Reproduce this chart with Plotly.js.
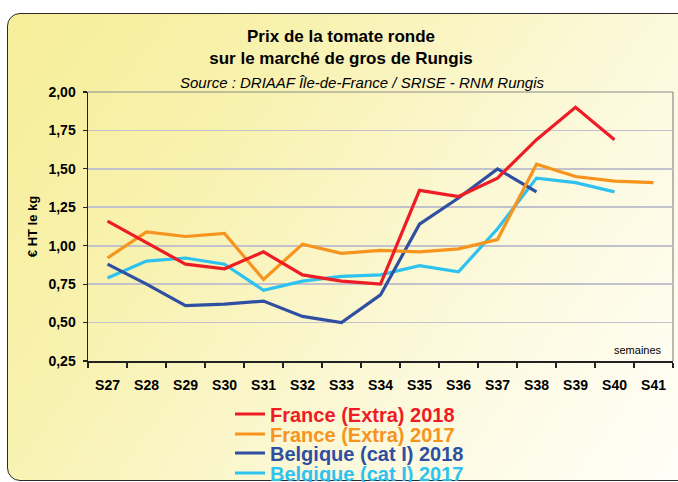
<!DOCTYPE html>
<html>
<head>
<meta charset="utf-8">
<script src="https://cdn.plot.ly/plotly-3.0.1.min.js"></script>
<style>
  html, body { margin: 0; padding: 0; background: #ffffff; }
  #wrap { position: relative; width: 678px; height: 482px; overflow: hidden; background: #ffffff; }
  #frame {
    position: absolute; left: 7px; top: 13px; width: 690px; height: 466px;
    border: 1.5px solid #2a2a2a; border-radius: 13px;
    background: linear-gradient(125deg, #f6ee98 0%, #f8f2b0 30%, #fcf9dc 65%, #fffffa 100%);
  }
  #chart { position: absolute; left: 0; top: 0; width: 678px; height: 482px; }
</style>
</head>
<body>
<div id="wrap">
  <div id="frame"></div>
  <div id="chart"></div>
</div>
<script>
const weeks = ['S27','S28','S29','S30','S31','S32','S33','S34','S35','S36','S37','S38','S39','S40','S41'];
const franceExtra2018 = [1.16, 1.02, 0.88, 0.85, 0.96, 0.81, 0.77, 0.75, 1.36, 1.32, 1.44, 1.69, 1.90, 1.69, null];
const franceExtra2017 = [0.92, 1.09, 1.06, 1.08, 0.78, 1.01, 0.95, 0.97, 0.96, 0.98, 1.04, 1.53, 1.45, 1.42, 1.41];
const belgique2018    = [0.88, 0.75, 0.61, 0.62, 0.64, 0.54, 0.50, 0.68, 1.14, 1.31, 1.50, 1.35, null, null, null];
const belgique2017    = [0.79, 0.90, 0.92, 0.88, 0.71, 0.77, 0.80, 0.81, 0.87, 0.83, 1.11, 1.44, 1.41, 1.35, null];
const seriesNames = ['France (Extra) 2018', 'France (Extra) 2017', 'Belgique (cat I) 2018', 'Belgique (cat I) 2017'];
const yTicks = [0.25, 0.50, 0.75, 1.00, 1.25, 1.50, 1.75, 2.00];

const FONT = 'Liberation Sans, Arial, Helvetica, sans-serif';
const cRed = '#ee1c25', cOrange = '#f7941d', cDark = '#2f4fa2', cLight = '#2ec2f0';

function tr(y, name, color, leg) {
  return { x: weeks, y: y, name: name, type: 'scatter', mode: 'lines',
    line: { color: color, width: 3.2 }, connectgaps: false, legend: leg, showlegend: true };
}
const data = [
  tr(belgique2017, seriesNames[3], cLight, 'legend4'),
  tr(belgique2018, seriesNames[2], cDark, 'legend3'),
  tr(franceExtra2017, seriesNames[1], cOrange, 'legend2'),
  tr(franceExtra2018, seriesNames[0], cRed, 'legend')
];

const plotTop = 92, plotBot = 361, plotH = plotBot - plotTop;
function py(px) { return (plotBot - px) / plotH; }
function legendCfg(px, color) {
  return { x: (230 - 88) / 585, xanchor: 'left', y: py(px), yanchor: 'middle',
    bgcolor: 'rgba(0,0,0,0)', borderwidth: 0, itemwidth: 30,
    font: { family: FONT, size: 20, weight: 'bold', color: color } };
}

const layout = {
  width: 678, height: 482,
  paper_bgcolor: 'rgba(0,0,0,0)', plot_bgcolor: 'rgba(0,0,0,0)',
  margin: { l: 88, r: 5, t: 92, b: 121, pad: 0, autoexpand: false },
  separators: ', ',
  font: { family: FONT, color: '#000' },
  title: {
    text: 'Prix de la tomate ronde<br>sur le marché de gros de Rungis',
    font: { family: FONT, size: 17, weight: 'bold', color: '#000' },
    xref: 'container', x: 0.503, xanchor: 'center',
    yref: 'container', y: 1 - 42 / 482, yanchor: 'top'
  },
  xaxis: {
    type: 'category', range: [-0.5, 14.5], automargin: false,
    showline: true, linecolor: '#222', linewidth: 1.5,
    ticks: 'outside', tickson: 'boundaries', ticklen: 5, tickwidth: 1.2, tickcolor: '#222',
    tickfont: { family: FONT, size: 14, weight: 'bold', color: '#000' },
    ticklabelstandoff: 11,
    showgrid: false, zeroline: false, fixedrange: true
  },
  yaxis: {
    range: [0.25, 2.0], tickvals: yTicks, tickformat: '.2f', automargin: false,
    showline: true, linecolor: '#222', linewidth: 1.5,
    ticks: 'outside', ticklen: 4, tickwidth: 1.2, tickcolor: '#222',
    tickfont: { family: FONT, size: 14, weight: 'bold', color: '#000' },
    ticklabelstandoff: 4,
    showgrid: true, gridcolor: '#c2c2cc', gridwidth: 1.6,
    zeroline: false, fixedrange: true,
    title: { text: '€ HT le kg', font: { family: FONT, size: 13, weight: 'bold', color: '#000' }, standoff: 8 }
  },
  shapes: [
    { type: 'line', xref: 'paper', yref: 'paper', x0: 0, x1: 1, y0: 1, y1: 1, line: { color: '#8a8a8a', width: 1.2 }, layer: 'below' },
    { type: 'line', xref: 'paper', yref: 'paper', x0: 1, x1: 1, y0: 0, y1: 1, line: { color: '#8a8a8a', width: 1.2 }, layer: 'below' }
  ],
  annotations: [
    { text: 'Source : DRIAAF Île-de-France / SRISE - RNM Rungis', xref: 'paper', yref: 'paper',
      x: (362 - 88) / 585, xanchor: 'center', y: py(82), yanchor: 'middle', showarrow: false,
      font: { family: FONT, size: 15, style: 'italic', color: '#000' } },
    { text: 'semaines', xref: 'paper', yref: 'paper', x: (664 - 88) / 585, xanchor: 'right',
      y: py(350), yanchor: 'middle', showarrow: false,
      font: { family: FONT, size: 11, color: '#000' } }
  ],
  legend: legendCfg(414, cRed),
  legend2: legendCfg(434, cOrange),
  legend3: legendCfg(453, cDark),
  legend4: legendCfg(473, cLight)
};

Plotly.newPlot('chart', data, layout, { displayModeBar: false, staticPlot: true });
</script>
</body>
</html>
